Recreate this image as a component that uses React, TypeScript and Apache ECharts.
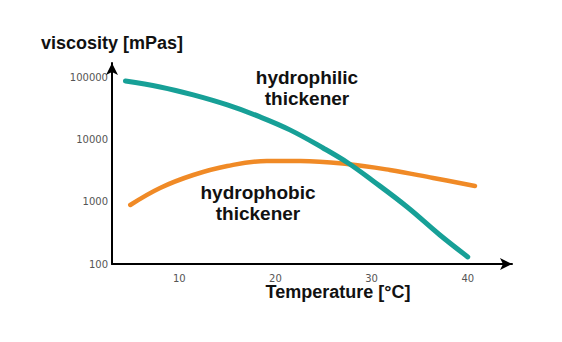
import React, { useEffect, useRef } from "react";
import * as echarts from "echarts";

// Temperature [°C] and viscosity [mPas]
const hydrophilicTemp = [4.4, 8.0, 11.45, 15.0, 18.4, 21.5, 24.95, 27.55, 30.15, 33.7, 37.1, 40.0];
const hydrophilicVisc = [86500, 69300, 51600, 35600, 22900, 14200, 7280, 4180, 2150, 822, 292, 130];

const hydrophobicTemp = [4.9, 8.0, 11.45, 15.0, 19.1, 22.6, 27.45, 31.9, 36.4, 40.75];
const hydrophobicVisc = [885, 1660, 2680, 3740, 4500, 4500, 4030, 3230, 2400, 1790];

const xTickLabels = [10, 20, 30, 40];
const yTickLabels = [100, 1000, 10000, 100000];

const teal = "#17a097";
const orange = "#f08a26";
const textFont = "Liberation Sans, Arial, sans-serif";

export default function App() {
  const ref = useRef<HTMLDivElement>(null);

  useEffect(() => {
    if (!ref.current) return;
    const chart = echarts.init(ref.current, undefined, { renderer: "svg" });

    const pairs = (xs: number[], ys: number[]) => xs.map((x, i) => [x, ys[i]]);

    chart.setOption({
      animation: false,
      backgroundColor: "#ffffff",
      grid: { left: 112, right: 50, top: 63, bottom: 78, outerBoundsMode: "none" },
      xAxis: {
        type: "value",
        min: 3,
        max: 44.6,
        splitLine: { show: false },
        axisTick: { show: false },
        axisLine: {
          show: true,
          symbol: ["none", "arrow"],
          symbolSize: [9, 12],
          lineStyle: { color: "#000", width: 2 },
        },
        axisLabel: {
          margin: 9,
          color: "#555",
          fontFamily: "DejaVu Sans, sans-serif",
          fontSize: 10,
          showMinLabel: false,
          showMaxLabel: false,
          formatter: (v: number) => (xTickLabels.includes(Math.round(v)) && Math.abs(v - Math.round(v)) < 1e-6 ? String(Math.round(v)) : ""),
        },
      },
      yAxis: {
        type: "log",
        logBase: 10,
        min: 100,
        max: 168000,
        splitLine: { show: false },
        axisTick: { show: false },
        axisLine: {
          show: true,
          symbol: ["none", "arrow"],
          symbolSize: [9, 12],
          lineStyle: { color: "#000", width: 2 },
        },
        axisLabel: {
          margin: 4,
          color: "#555",
          fontFamily: "DejaVu Sans, sans-serif",
          fontSize: 10,
          formatter: (v: number) => {
            const r = Math.round(v);
            return yTickLabels.includes(r) && Math.abs(v - r) < 1e-3 ? String(r) : "";
          },
        },
      },
      series: [
        {
          name: "hydrophilic thickener",
          type: "line",
          smooth: 0.4,
          symbol: "none",
          data: pairs(hydrophilicTemp, hydrophilicVisc),
          lineStyle: { color: teal, width: 5, cap: "round" },
          z: 3,
        },
        {
          name: "hydrophobic thickener",
          type: "line",
          smooth: 0.4,
          symbol: "none",
          data: pairs(hydrophobicTemp, hydrophobicVisc),
          lineStyle: { color: orange, width: 4.5, cap: "round" },
          z: 2,
        },
      ],
      graphic: [
        {
          type: "text",
          left: 117 - 76,
          top: 34,
          style: { text: "viscosity [mPas]", font: `bold 18px ${textFont}`, fill: "#111" },
        },
        {
          type: "text",
          x: 338,
          y: 292,
          style: { text: "Temperature [°C]", font: `bold 18px ${textFont}`, fill: "#111", align: "center", verticalAlign: "middle" },
        },
        {
          type: "text",
          x: 307,
          y: 88,
          style: {
            text: "hydrophilic\nthickener",
            font: `bold 19px ${textFont}`,
            lineHeight: 21,
            fill: "#111",
            align: "center",
            verticalAlign: "middle",
          },
        },
        {
          type: "text",
          x: 258,
          y: 203,
          style: {
            text: "hydrophobic\nthickener",
            font: `bold 19px ${textFont}`,
            lineHeight: 21,
            fill: "#111",
            align: "center",
            verticalAlign: "middle",
          },
        },
      ],
    });

    return () => chart.dispose();
  }, []);

  return (
    <div
      ref={ref}
      style={{ position: "fixed", left: 0, top: 0, width: 562, height: 342, background: "#fff" }}
    />
  );
}
